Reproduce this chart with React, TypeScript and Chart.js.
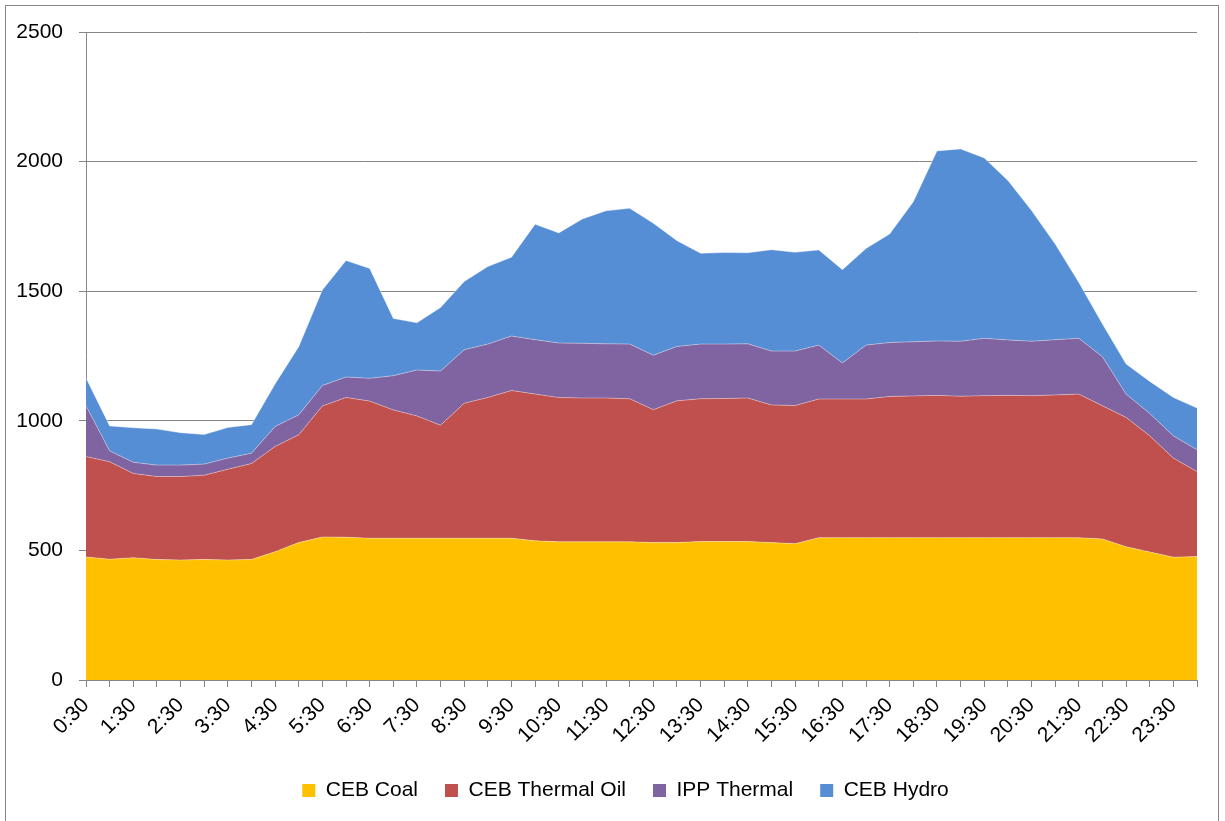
import React, { useEffect, useRef } from 'react';
import { Chart, registerables } from 'chart.js';

Chart.register(...registerables);

const timeLabels = [
  '0:30', '1:00', '1:30', '2:00', '2:30', '3:00', '3:30', '4:00', '4:30', '5:00',
  '5:30', '6:00', '6:30', '7:00', '7:30', '8:00', '8:30', '9:00', '9:30', '10:00',
  '10:30', '11:00', '11:30', '12:00', '12:30', '13:00', '13:30', '14:00', '14:30', '15:00',
  '15:30', '16:00', '16:30', '17:00', '17:30', '18:00', '18:30', '19:00', '19:30', '20:00',
  '20:30', '21:00', '21:30', '22:00', '22:30', '23:00', '23:30', '24:00',
];

const cebCoal = [
  475, 466, 472, 465, 463, 465, 463, 465, 495, 530,
  552, 551, 547, 547, 547, 547, 547, 547, 547, 537,
  533, 533, 533, 533, 530, 530, 534, 534, 534, 530,
  526, 549, 549, 549, 549, 549, 549, 549, 549, 549,
  549, 549, 549, 544, 514, 494, 474, 476,
];

const cebThermalOil = [
  387, 376, 325, 320, 322, 325, 350, 370, 406, 416,
  505, 539, 529, 495, 472, 436, 521, 543, 570, 566,
  557, 555, 555, 552, 513, 547, 551, 552, 554, 531,
  533, 535, 535, 535, 545, 547, 549, 546, 548, 549,
  548, 551, 554, 514, 499, 448, 382, 328,
];

const ippThermal = [
  196, 42, 43, 44, 44, 43, 43, 40, 77, 77,
  79, 79, 88, 132, 177, 209, 206, 206, 210, 210,
  210, 211, 209, 211, 210, 210, 211, 210, 209, 208,
  210, 208, 139, 208, 208, 209, 210, 212, 221, 214,
  210, 213, 215, 189, 90, 86, 86, 84,
];

const cebHydro = [
  107, 96, 133, 139, 125, 114, 118, 110, 164, 263,
  369, 449, 424, 221, 182, 245, 263, 299, 304, 445,
  425, 480, 513, 524, 509, 408, 350, 353, 351, 391,
  381, 367, 360, 373, 419, 540, 733, 742, 696, 615,
  504, 369, 216, 126, 116, 124, 148, 161,
];

const seriesNames = ['CEB Coal', 'CEB Thermal Oil', 'IPP Thermal', 'CEB Hydro'];
const seriesColors = ['#FFC000', '#C0504D', '#8064A2', '#558ED5'];
const yTicks = [0, 500, 1000, 1500, 2000, 2500];

const FONT = "'Liberation Sans', Arial, sans-serif";
const GRID = '#868686';

export default function App() {
  const canvasRef = useRef<HTMLCanvasElement | null>(null);

  useEffect(() => {
    const canvas = canvasRef.current;
    if (!canvas) return;
    const seriesData = [cebCoal, cebThermalOil, ippThermal, cebHydro];

    const legendShift = {
      id: 'legendShift',
      afterLayout(chart: any) {
        const l = chart.legend;
        if (l) {
          l.left += 27;
          l.right += 27;
        }
      },
    };

    const chart = new Chart(canvas, {
      type: 'line',
      data: {
        labels: timeLabels,
        datasets: seriesData.map((d, i) => ({
          label: seriesNames[i],
          data: d,
          backgroundColor: seriesColors[i],
          borderColor: 'rgba(255,255,255,0.35)',
          borderWidth: 1,
          fill: i === 0 ? 'origin' : '-1',
          pointRadius: 0,
          pointHoverRadius: 0,
          tension: 0,
        })),
      },
      options: {
        responsive: false,
        animation: false,
        devicePixelRatio: 1,
        layout: { padding: { left: 0, right: 28, top: 32, bottom: 10 } },
        plugins: {
          tooltip: { enabled: false },
          legend: {
            position: 'bottom',
            labels: {
              font: { family: FONT, size: 21 },
              color: '#000',
              boxWidth: 13,
              boxHeight: 13,
              padding: 27,
              generateLabels: (c: any) =>
                c.data.datasets.map((ds: any, i: number) => ({
                  text: ds.label,
                  fillStyle: seriesColors[i],
                  strokeStyle: seriesColors[i],
                  lineWidth: 0,
                  hidden: false,
                  datasetIndex: i,
                  fontColor: '#000',
                })),
            },
          },
        },
        scales: {
          x: {
            type: 'category',
            offset: false,
            grid: {
              drawOnChartArea: false,
              drawTicks: true,
              tickLength: 7,
              color: GRID,
            },
            border: { color: GRID, width: 1 },
            ticks: {
              autoSkip: false,
              maxRotation: 45,
              minRotation: 45,
              padding: 6,
              color: '#000',
              font: { family: FONT, size: 21 },
              callback: (_v: any, idx: number) => (idx % 2 === 0 ? timeLabels[idx] : ''),
            },
            afterFit: (scale: any) => {
              scale.height = 73;
            },
          },
          y: {
            stacked: true,
            min: yTicks[0],
            max: yTicks[yTicks.length - 1],
            grid: {
              color: GRID,
              lineWidth: 1,
              tickLength: 7,
            },
            border: { color: GRID, width: 1 },
            ticks: {
              stepSize: 500,
              padding: 16,
              color: '#000',
              font: { family: FONT, size: 21 },
              callback: (v: any) => String(v),
            },
            afterFit: (scale: any) => {
              scale.width = 86;
            },
          },
        },
      },
      plugins: [legendShift],
    });

    return () => chart.destroy();
  }, []);

  return (
    <div style={{ position: 'fixed', left: 0, top: 0, width: 1225, height: 821, background: '#fff', overflow: 'hidden' }}>
      <div
        style={{
          position: 'absolute',
          left: 5,
          top: 5,
          width: 1214,
          height: 840,
          border: `1px solid ${GRID}`,
          boxSizing: 'border-box',
        }}
      />
      <canvas
        ref={canvasRef}
        width={1225}
        height={821}
        style={{ position: 'absolute', left: 0, top: 0, width: 1225, height: 821 }}
      />
    </div>
  );
}
